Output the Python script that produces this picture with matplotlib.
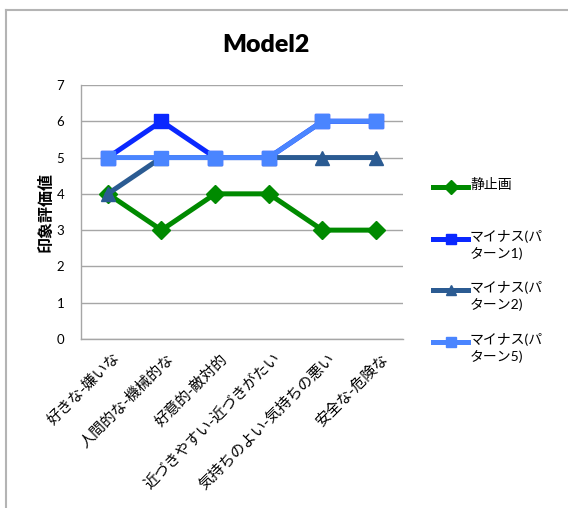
import matplotlib
matplotlib.use("Agg")
import matplotlib.pyplot as plt
import matplotlib.transforms as mtransforms
from matplotlib.lines import Line2D

plt.rcParams['font.family'] = ['Lato', 'Noto Sans CJK JP', 'DejaVu Sans']

# Data
categories = ['好きな-嫌いな', '人間的な-機械的な', '好意的-敵対的',
              '近づきやすい-近づきがたい', '気持ちのよい-気持ちの悪い', '安全な-危険な']
still_image = [4, 3, 4, 4, 3, 3]
pattern1 = [5, 6, 5, 5, 6, 6]
pattern2 = [4, 5, 5, 5, 5, 5]
pattern5 = [5, 5, 5, 5, 6, 6]

series = [
    ('静止画', still_image, '#008A00', 'D', 9),
    ('マイナス(パ\nターン1)', pattern1, '#0A28FF', 's', 10),
    ('マイナス(パ\nターン2)', pattern2, '#2B5B92', '^', 10),
    ('マイナス(パ\nターン5)', pattern5, '#4A85FF', 's', 10),
]

GRID_COLOR = '#A6A6A6'

fig = plt.figure(figsize=(5.68, 5.08), dpi=100)
ax = fig.add_axes([0.1426, 0.3327, 0.5669, 0.5000])

x = list(range(len(categories)))
for label, vals, color, marker, ms in series:
    ax.plot(x, vals, color=color, lw=3.6, marker=marker, markersize=ms,
            markeredgecolor=color, solid_joinstyle='miter')

ax.set_xlim(-0.5, len(categories) - 0.5)
ax.set_ylim(0, 7)
ax.set_yticks(range(0, 8))
ax.grid(axis='y', color=GRID_COLOR, lw=1)
ax.set_axisbelow(True)
for s in ['top', 'right']:
    ax.spines[s].set_visible(False)
for s in ['left', 'bottom']:
    ax.spines[s].set_color(GRID_COLOR)
    ax.spines[s].set_linewidth(1)
ax.tick_params(axis='y', length=0, pad=12, labelsize=9.5)
ax.tick_params(axis='x', length=0, pad=9)
ax.set_xticks(x)
# category labels use the CJK face throughout, short hyphen included
ax.set_xticklabels(categories, rotation=45, ha='right', va='top',
                   rotation_mode='anchor', fontsize=10.8,
                   family=['Noto Sans CJK JP', 'DejaVu Sans'])
shift = mtransforms.ScaledTranslation(5 / 100, 0, fig.dpi_scale_trans)
for t in ax.get_xticklabels():
    t.set_transform(t.get_transform() + shift)
ax.set_ylabel('印象評価値', fontsize=11.5, fontweight='bold', labelpad=2)

fig.text(0.468, 1 - 45 / 508, 'Model2', ha='center', va='center',
         fontsize=18, fontweight='heavy')

# Legend drawn by hand so the marker sits on the first text line
legend_y = [187, 239, 290, 342]
for (label, vals, color, marker, ms), yp in zip(series, legend_y):
    yf = 1 - yp / 508
    fig.add_artist(Line2D([433 / 568, 468 / 568], [yf, yf], color=color, lw=3.6,
                          transform=fig.transFigure))
    fig.add_artist(Line2D([450.5 / 568], [yf], color=color, marker=marker,
                          markersize=ms * 0.75, transform=fig.transFigure))
    fig.text(470 / 568, yf + 9 / 508, label, ha='left', va='top', fontsize=10,
             linespacing=1.35)

# Outer frame (top and left edges)
fig.add_artist(Line2D([6 / 568, 1], [1 - 10 / 508, 1 - 10 / 508], color='#B4B4B4',
                      lw=1.5, transform=fig.transFigure))
fig.add_artist(Line2D([6 / 568, 6 / 568], [0, 1 - 10 / 508], color='#B4B4B4',
                      lw=1.5, transform=fig.transFigure))

fig.savefig('out.png', dpi=100)
